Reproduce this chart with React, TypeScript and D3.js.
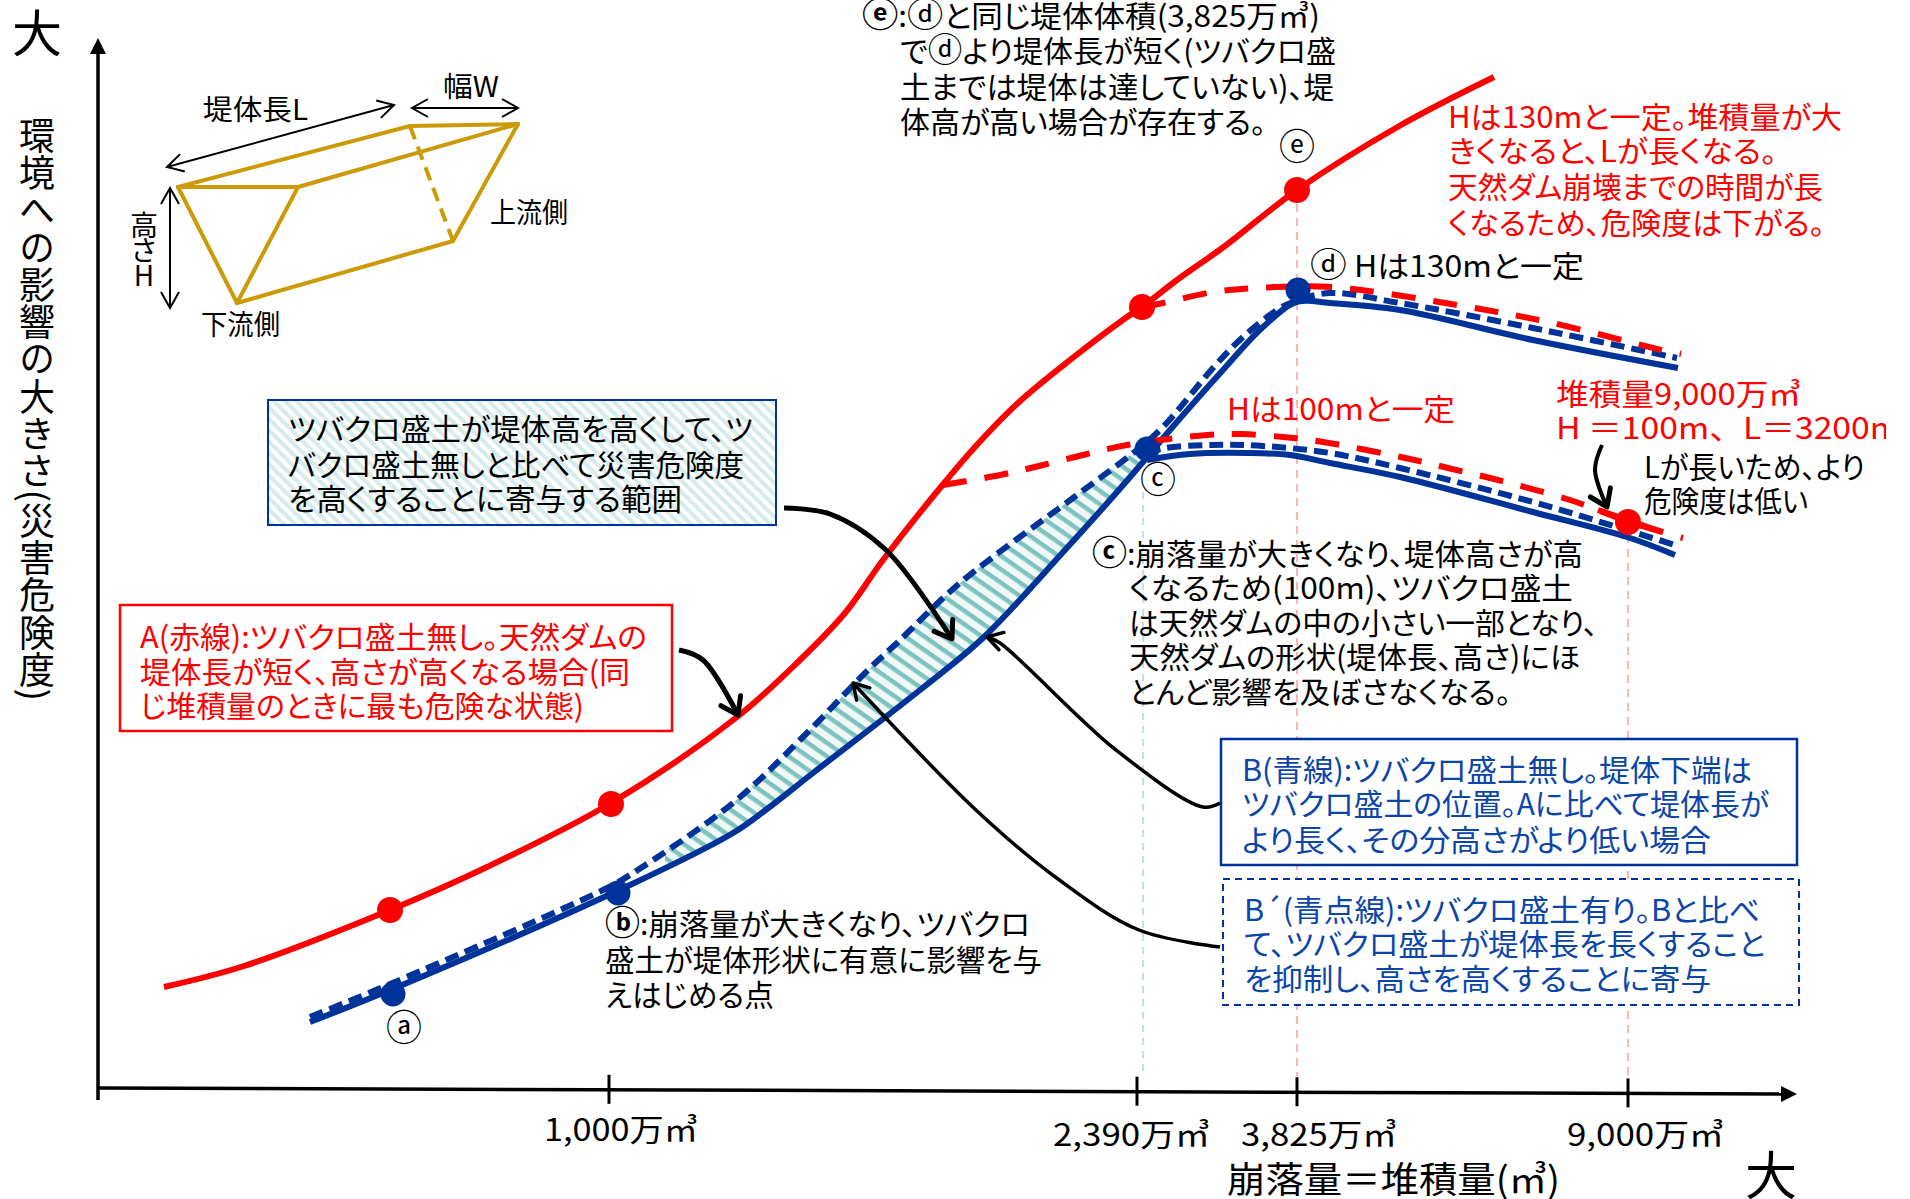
import React from "react";
import * as d3 from "d3";

type P = [number, number];

// Curves, in chart units (impact against scale position)
const curveA: P[] = [[66,108],[146,129],[292,185],[389,228],[513,292],[639,378],[702,435],[747,482],[785,535],[842,607],[877,648],[920,692],[972,735],[1029,778],[1044,788],[1079,815],[1127,849],[1199,905],[1303,970],[1396,1018]];
const curveB: P[] = [[212,73],[297,107],[532,210],[635,262],[669,286],[715,322],[822,405],[886,458],[967,545],[1012,595],[1045,633],[1072,665],[1125,725],[1165,768],[1199,793],[1232,792],[1302,785],[1435,755],[1580,727]];
const curveBLow: P[] = [[1049,635],[1092,641],[1149,642],[1192,640],[1232,632],[1302,618],[1435,583],[1529,558],[1577,540]];
const curveBDash: P[] = [[212,78],[297,113],[507,206],[535,222],[635,292],[705,358],[772,427],[799,452],[862,512],[975,597],[1039,645],[1065,668],[1115,727],[1145,758],[1179,785],[1195,793],[1232,802],[1302,792],[1435,767],[1579,737]];
const curveBDashLow: P[] = [[1049,642],[1067,647],[1115,650],[1165,649],[1232,642],[1302,627],[1435,593],[1519,568],[1577,550]];
const curveRedHigh: P[] = [[1044,788],[1065,792],[1115,803],[1159,807],[1233,808],[1359,790],[1450,773],[1572,743],[1583,741]];
const curveRedLow: P[] = [[845,610],[902,620],[945,630],[989,641],[1029,650],[1109,660],[1144,661],[1185,658],[1225,653],[1312,636],[1350,627],[1392,617],[1472,595],[1532,573],[1585,557]];
const curveRedNear: P[] = [[1500,585],[1564,563]];
const wedgeTop: P[] = [[567,244],[635,292],[705,358],[772,427],[799,452],[862,512],[975,597],[1039,645],[1049,652]];
const wedgeBottom: P[] = [[567,228],[635,262],[669,286],[715,322],[822,405],[886,458],[967,545],[1012,595],[1045,633],[1049,635]];
const redPoints: P[] = [[292,185],[513,291],[1044,788],[1199,905],[1530,573]];
const bluePoints: P[] = [[295,101],[520,202],[1049,646],[1200,805]];
const tickVolumes = [1000, 2390, 3825, 9000];
const tickUnits = [511, 1039, 1199, 1530];
const tickLabelBox: [number, number, number][] = [[544, 698, 1141], [1053, 1210, 1146], [1241, 1397, 1146], [1567, 1724, 1146]];

const X = d3.scaleLinear().domain([0, 1699]).range([98, 1797]);
const Y = d3.scaleLinear().domain([0, 1056]).range([1095, 39]);
const V = d3.scaleLinear().domain(tickVolumes).range(tickUnits);
const line = d3.line<P>().x(d => X(d[0])).y(d => Y(d[1])).curve(d3.curveCatmullRom.alpha(0.5));

const RED = "#ff0000", BLUE = "#003399", TBLUE = "#0b45a8", GOLD = "#cc9a06", BLACK = "#000";
const FONT = '"Noto Sans CJK JP", "Noto Sans", sans-serif';

type L = [string, number, number, number];
const blackNotes: L[] = [
  ["ⓔ:ⓓと同じ堤体体積(3,825万㎥)", 862, 1320, 27],
  ["でⓓより堤体長が短く(ツバクロ盛", 900, 1336, 62],
  ["土までは堤体は達していない)、堤", 900, 1334, 98],
  ["体高が高い場合が存在する。", 900, 1266, 133],
  ["ⓓ  Hは130mと一定", 1310, 1584, 277],
  ["Lが長いため、より", 1644, 1865, 478],
  ["危険度は低い", 1644, 1808, 512],
  ["ツバクロ盛土が堤体高を高くして、ツ", 288, 753, 440],
  ["バクロ盛土無しと比べて災害危険度", 288, 744, 476],
  ["を高くすることに寄与する範囲", 288, 682, 510],
  ["ⓑ:崩落量が大きくなり、ツバクロ", 605, 1030, 935],
  ["盛土が堤体形状に有意に影響を与", 605, 1042, 971],
  ["えはじめる点", 605, 774, 1006],
  ["ⓒ:崩落量が大きくなり、堤体高さが高", 1092, 1583, 565],
  ["くなるため(100m)、ツバクロ盛土", 1129, 1573, 599],
  ["は天然ダムの中の小さい一部となり、", 1129, 1598, 634],
  ["天然ダムの形状(堤体長、高さ)にほ", 1129, 1580, 668],
  ["とんど影響を及ぼさなくなる。", 1129, 1511, 703],
];
const redNotes: L[] = [
  ["Hは130mと一定。堆積量が大", 1448, 1842, 128],
  ["きくなると、Lが長くなる。", 1448, 1777, 162],
  ["天然ダム崩壊までの時間が長", 1448, 1823, 198],
  ["くなるため、危険度は下がる。", 1448, 1825, 234],
  ["Hは100mと一定", 1227, 1455, 420],
  ["堆積量9,000万㎥", 1556, 1801, 405],
  ["A(赤線):ツバクロ盛土無し。天然ダムの", 140, 647, 648],
  ["堤体長が短く、高さが高くなる場合(同", 140, 630, 683],
  ["じ堆積量のときに最も危険な状態)", 140, 584, 717],
];
const blueNotes: L[] = [
  ["B(青線):ツバクロ盛土無し。堤体下端は", 1242, 1752, 781],
  ["ツバクロ盛土の位置。Aに比べて堤体長が", 1242, 1769, 815],
  ["より長く、その分高さがより低い場合", 1242, 1711, 851],
  ["B´(青点線):ツバクロ盛土有り。Bと比べ", 1244, 1760, 921],
  ["て、ツバクロ盛土が堤体長を長くすること", 1244, 1765, 955],
  ["を抑制し、高さを高くすることに寄与", 1244, 1711, 990],
];
const diagramLabels: L[] = [
  ["堤体長L", 203, 308, 120],
  ["幅W", 443, 499, 97],
  ["上流側", 490, 568, 223],
  ["下流側", 201, 280, 335],
];
const circled: [string, number, number][] = [["ⓔ", 1297, 144], ["ⓒ", 1158, 477], ["ⓐ", 404, 1025]];

const prism: Record<string, P> = { a: [178,187], b: [298,187], c: [237,303], d: [410,126], e: [518,124], f: [453,241] };
const prismEdges = [["a","b"],["a","c"],["b","c"],["a","d"],["d","e"],["b","e"],["e","f"],["c","f"]];

const arrowThick: P[][] = [
  [[784,508],[830,514],[886,550],[952,639]],
  [[679,650],[703,660],[738,715]],
  [[1602,445],[1595,470],[1607,507]],
];
const arrowThin: P[][] = [
  [[1220,803],[1203,807],[1116,750],[1000,643],[987,637]],
  [[1220,947],[1139,930],[1058,879],[977,811],[853,683]],
];
const smooth = d3.line<P>().curve(d3.curveCatmullRom.alpha(0.5));

const palt = { fontFeatureSettings: '"palt"' } as React.CSSProperties;

const Txt = ({ l, fill, size = 30 }: { l: L; fill: string; size?: number }) => (
  <text x={l[1]} y={l[3]} fill={fill} fontSize={size} textLength={l[2] - l[1]} lengthAdjust="spacingAndGlyphs" style={palt}>
    {l[0].split(/([ⓐ-ⓩ])/).map((part, i, all) =>
      i % 2 ? <tspan key={i} fontSize={size * 1.15} fontWeight={i === 1 && all[0] === "" && all[2].startsWith(":") ? 700 : 400}>{part}</tspan> : part
    )}
  </text>
);

export default function App() {
  const wedge = line(wedgeTop)! + "L" + line([...wedgeBottom].reverse())!.slice(1) + "Z";
  const axisY = (px: number) => 1088 + ((px - 98) / 1699) * 6;
  return (
    <svg width={1910} height={1199} viewBox="0 0 1910 1199"
      style={{ position: "absolute", left: 0, top: 0, display: "block", background: "#fff" }} fontFamily={FONT}>
      <defs>
        <pattern id="hatch" width="11" height="11" patternUnits="userSpaceOnUse" patternTransform="rotate(35)">
          <rect width="11" height="11" fill="#f1f9f8" />
          <rect width="11" height="4.5" fill="#7cc3c0" />
        </pattern>
        <pattern id="boxHatch" width="8" height="8" patternUnits="userSpaceOnUse" patternTransform="rotate(45)">
          <rect width="8" height="8" fill="#fff" />
          <rect width="8" height="4" fill="#d6ecec" />
        </pattern>
        <marker id="head" viewBox="0 0 24 28" refX="20" refY="14" markerWidth="24" markerHeight="28" markerUnits="userSpaceOnUse" orient="auto">
          <path d="M4,3 L20,14 L4,25" fill="none" stroke={BLACK} strokeWidth="5" strokeLinecap="round" strokeLinejoin="round" />
        </marker>
        <marker id="headThin" viewBox="0 0 24 24" refX="20" refY="12" markerWidth="24" markerHeight="24" markerUnits="userSpaceOnUse" orient="auto">
          <path d="M5,3 L20,12 L5,21" fill="none" stroke={BLACK} strokeWidth="3.5" strokeLinecap="round" strokeLinejoin="round" />
        </marker>
        <marker id="dim" viewBox="0 0 24 24" refX="22" refY="12" markerWidth="24" markerHeight="24" markerUnits="userSpaceOnUse" orient="auto-start-reverse">
          <path d="M6,3 L22,12 L6,21" fill="none" stroke={BLACK} strokeWidth="2" />
        </marker>
        <clipPath id="pageClip"><rect x="0" y="0" width="1886" height="1199" /></clipPath>
      </defs>

      {/* guides */}
      <line x1={1143} y1={492} x2={1143} y2={1076} stroke="#bfe3e0" strokeWidth={2} strokeDasharray="7 6" />
      <line x1={X(tickUnits[2])} y1={190} x2={X(tickUnits[2])} y2={1076} stroke="#ffb3b3" strokeWidth={2} strokeDasharray="8 6" />
      <line x1={X(tickUnits[3])} y1={521} x2={X(tickUnits[3])} y2={1076} stroke="#ffb3b3" strokeWidth={2} strokeDasharray="8 6" />

      {/* axes */}
      <line x1={98} y1={1100} x2={98} y2={50} stroke={BLACK} strokeWidth={3.5} />
      <path d="M98,38 L90,54 L106,54 Z" fill={BLACK} />
      <line x1={98} y1={1088} x2={1785} y2={axisY(1785)} stroke={BLACK} strokeWidth={3.5} />
      <path d="M1797,1094 L1781,1086 L1781,1102 Z" fill={BLACK} />
      {tickVolumes.map(v => {
        const px = X(V(v));
        return <line key={v} x1={px} x2={px} y1={axisY(px) - 15} y2={axisY(px) + 14} stroke={BLACK} strokeWidth={3} />;
      })}
      {tickVolumes.map((v, i) => (
        <text key={v} x={tickLabelBox[i][0]} y={tickLabelBox[i][2]} fontSize={31} fill={BLACK}
          textLength={tickLabelBox[i][1] - tickLabelBox[i][0]} lengthAdjust="spacingAndGlyphs">
          {d3.format(",")(v)}万㎥
        </text>
      ))}
      <text x={12} y={52} fontSize={50} fill={BLACK}>大</text>
      <text x={1745} y={1195} fontSize={52} fill={BLACK}>大</text>
      <text x={1227} y={1193} fontSize={36} fill={BLACK} textLength={333} lengthAdjust="spacingAndGlyphs">崩落量＝堆積量(㎥)</text>
      <text x={37} y={117} fontSize={36} fill={BLACK} style={{ writingMode: "vertical-rl" }} textLength={584} lengthAdjust="spacingAndGlyphs">環境への影響の大きさ(災害危険度)</text>

      {/* prism sketch */}
      {prismEdges.map(([s, t]) => (
        <line key={s + t} x1={prism[s][0]} y1={prism[s][1]} x2={prism[t][0]} y2={prism[t][1]} stroke={GOLD} strokeWidth={4} strokeLinecap="round" />
      ))}
      <line x1={prism.d[0]} y1={prism.d[1]} x2={prism.f[0]} y2={prism.f[1]} stroke={GOLD} strokeWidth={4} strokeDasharray="14 8" />
      <line x1={167} y1={167} x2={394} y2={105} stroke={BLACK} strokeWidth={2} markerStart="url(#dim)" markerEnd="url(#dim)" />
      <line x1={412} y1={108} x2={518} y2={108} stroke={BLACK} strokeWidth={2} markerStart="url(#dim)" markerEnd="url(#dim)" />
      <line x1={170} y1={188} x2={170} y2={308} stroke={BLACK} strokeWidth={2} markerStart="url(#dim)" markerEnd="url(#dim)" />
      {diagramLabels.map(l => <Txt key={l[0]} l={l} fill={BLACK} size={28} />)}
      <text x={144} y={211} fontSize={28} fill={BLACK} style={{ writingMode: "vertical-rl", textOrientation: "upright", letterSpacing: -3 } as React.CSSProperties}>高さH</text>

      {/* hatch */}
      <path d={wedge} fill="url(#hatch)" />

      {/* curves */}
      <path d={line(curveBLow)!} fill="none" stroke={BLUE} strokeWidth={6} />
      <path d={line(curveB)!} fill="none" stroke={BLUE} strokeWidth={6} />
      <path d={line(curveBDash)!} fill="none" stroke={BLUE} strokeWidth={6} strokeDasharray="14 7" />
      <path d={line(curveBDashLow)!} fill="none" stroke={BLUE} strokeWidth={6} strokeDasharray="14 7" />
      <path d={line(curveRedHigh)!} fill="none" stroke={RED} strokeWidth={6} strokeDasharray="24 18" />
      <path d={line(curveRedLow)!} fill="none" stroke={RED} strokeWidth={6} strokeDasharray="24 18" />
      <path d={line(curveRedNear)!} fill="none" stroke={RED} strokeWidth={6} />
      <path d={line(curveA)!} fill="none" stroke={RED} strokeWidth={6} />
      {bluePoints.map(p => <circle key={p[0]} cx={X(p[0])} cy={Y(p[1])} r={12.5} fill={BLUE} />)}
      {redPoints.map(p => <circle key={p[0]} cx={X(p[0])} cy={Y(p[1])} r={13} fill={RED} />)}

      {/* boxes */}
      <rect x={268} y={400} width={508} height={125} fill="url(#boxHatch)" stroke={BLUE} strokeWidth={2} />
      <rect x={120} y={605} width={552} height={126} fill="#fff" stroke={RED} strokeWidth={2.5} />
      <rect x={1221} y={739} width={576} height={126} fill="#fff" stroke={BLUE} strokeWidth={2.5} />
      <rect x={1223} y={879} width={576} height={126} fill="#fff" stroke={BLUE} strokeWidth={2} strokeDasharray="7 5" />

      {/* arrows */}
      {arrowThick.map((a, i) => <path key={i} d={smooth(a)!} fill="none" stroke={BLACK} strokeWidth={i === 2 ? 4 : 5} markerEnd="url(#head)" />)}
      {arrowThin.map((a, i) => <path key={i} d={smooth(a)!} fill="none" stroke={BLACK} strokeWidth={3.5} markerEnd="url(#headThin)" />)}

      {/* notes */}
      {blackNotes.map(l => <Txt key={l[0]} l={l} fill={BLACK} />)}
      {redNotes.map(l => <Txt key={l[0]} l={l} fill={RED} />)}
      {blueNotes.map(l => <Txt key={l[0]} l={l} fill={TBLUE} />)}
      <g clipPath="url(#pageClip)">
        <text x={1556} y={439} fill={RED} fontSize={30} textLength={345} lengthAdjust="spacingAndGlyphs">H ＝100m、L＝3200m</text>
      </g>
      {circled.map(([t, x, y]) => <text key={t} x={x} y={y} fontSize={36} fill={BLACK} textAnchor="middle" dominantBaseline="central">{t}</text>)}
    </svg>
  );
}
